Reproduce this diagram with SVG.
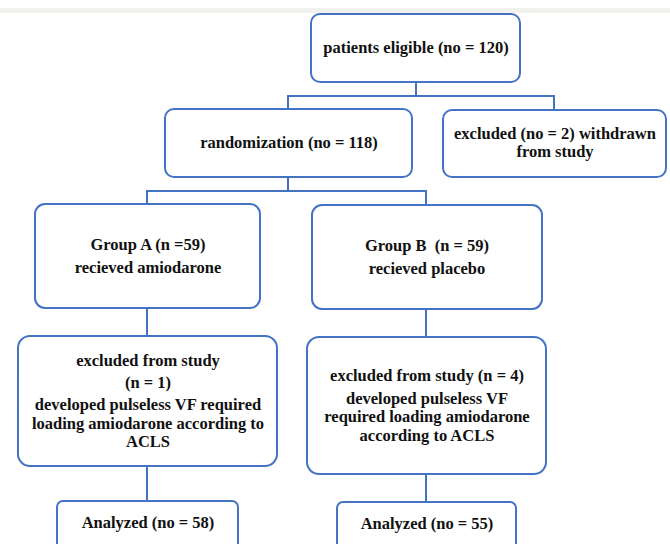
<svg xmlns="http://www.w3.org/2000/svg" width="670" height="544" viewBox="0 0 670 544">
<style>
.box{fill:#ffffff;stroke:#4472c4;stroke-width:2}
.ln{fill:none;stroke:#4472c4;stroke-width:2}
text{font-family:"Liberation Serif","Times New Roman",serif;font-weight:bold;font-size:16.5px;fill:#111;text-anchor:middle}
</style>
<rect x="0" y="0" width="670" height="544" fill="#ffffff"/>
<rect x="0" y="8" width="670" height="5" fill="#f1f1ed"/>
<g id="connectors">
<path class="ln" d="M416 82V96M288 109V96H554V110"/>
<path class="ln" d="M288 177V191M147 204V191H426V205"/>
<path class="ln" d="M147 308V336"/>
<path class="ln" d="M426 309V337"/>
<path class="ln" d="M147 466V501"/>
<path class="ln" d="M426 474V502"/>
</g>
<g id="eligible">
<rect class="box" x="311" y="14" width="209" height="68" rx="9"/>
<text x="416" y="53">patients eligible (no = 120)</text>
</g>
<g id="randomization">
<rect class="box" x="165" y="109" width="247" height="68" rx="9"/>
<text x="289" y="148">randomization (no = 118)</text>
</g>
<g id="excluded-withdrawn">
<rect class="box" x="443" y="110" width="223" height="67" rx="9"/>
<text x="555" y="138.5">excluded (no = 2) withdrawn<tspan x="555" dy="18.5">from study</tspan></text>
</g>
<g id="group-a">
<rect class="box" x="35" y="204" width="225" height="104" rx="10"/>
<text x="148" y="250">Group A (n =59)</text>
<text x="148" y="273">recieved amiodarone</text>
</g>
<g id="group-b">
<rect class="box" x="312" y="205" width="230" height="104" rx="10"/>
<text x="427" y="251" xml:space="preserve">Group B  (n = 59)</text>
<text x="427" y="274">recieved placebo</text>
</g>
<g id="excluded-a">
<rect class="box" x="18" y="336" width="259" height="130" rx="12"/>
<text x="148" y="366">excluded from study</text>
<text x="148" y="388">(n = 1)</text>
<text x="148" y="410">developed pulseless VF required<tspan x="148" dy="18.5">loading amiodarone according to</tspan><tspan x="148" dy="18.5">ACLS</tspan></text>
</g>
<g id="excluded-b">
<rect class="box" x="307" y="337" width="239" height="137" rx="12"/>
<text x="427" y="381">excluded from study (n = 4)</text>
<text x="427" y="403.5">developed pulseless VF<tspan x="427" dy="18.5">required loading amiodarone</tspan><tspan x="427" dy="18.5">according to ACLS</tspan></text>
</g>
<g id="analyzed-a">
<rect class="box" x="57" y="501" width="181" height="60" rx="6"/>
<text x="148" y="528">Analyzed (no = 58)</text>
</g>
<g id="analyzed-b">
<rect class="box" x="337" y="502" width="179" height="60" rx="6"/>
<text x="427" y="529">Analyzed (no = 55)</text>
</g>
</svg>
